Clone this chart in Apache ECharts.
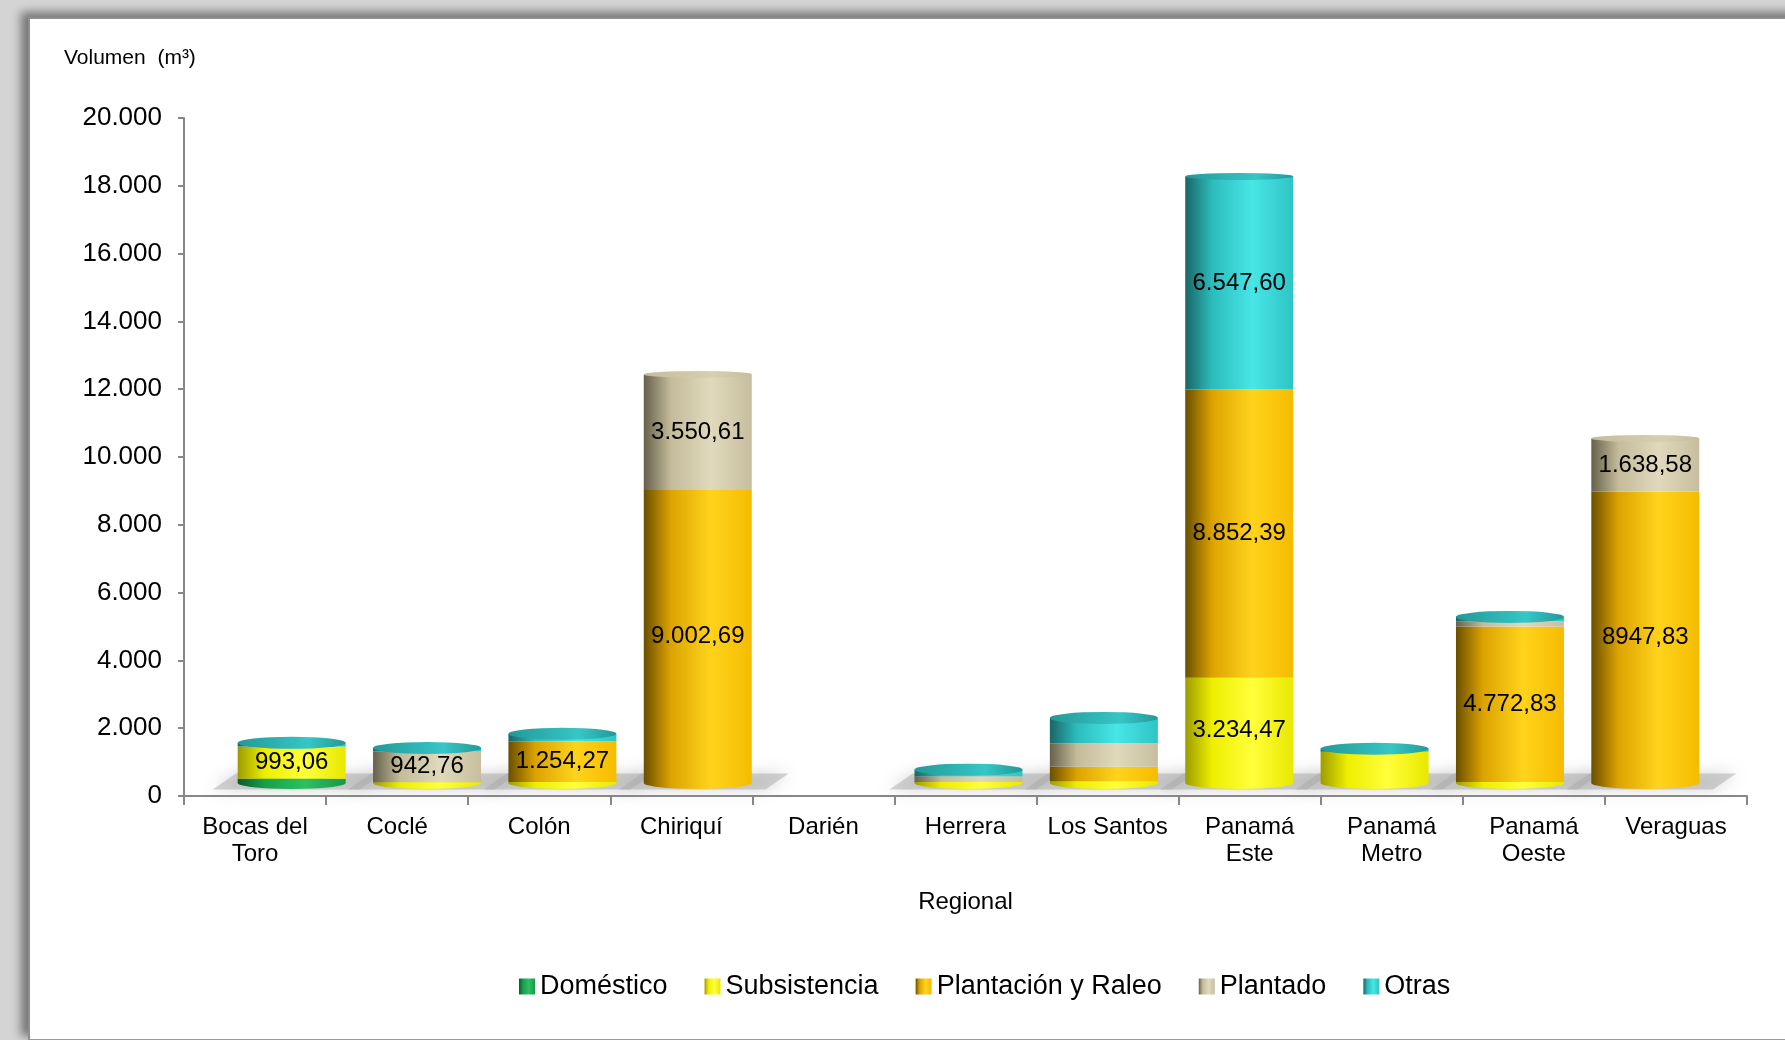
<!DOCTYPE html>
<html>
<head>
<meta charset="utf-8">
<script src="https://cdn.jsdelivr.net/npm/echarts@6/dist/echarts.min.js"></script>
<style>
  html, body { margin: 0; padding: 0; }
  body { width: 1785px; height: 1040px; background: #d4d4d4; position: relative; overflow: hidden; }
  #frame { position: absolute; left: 28px; top: 17px; width: 1780px; height: 1020px; background: #ffffff;
           border-left: 2px solid #8e8e8e; border-top: 2px solid #8e8e8e; border-bottom: 2px solid #9a9a9a;
           box-shadow: -7px -5px 9px rgba(0,0,0,0.45); }
  #chart { position: absolute; left: 0; top: 0; width: 1785px; height: 1040px; }
</style>
</head>
<body>
<div id="frame"></div>
<div id="chart"></div>
<script>
// ---- data ----
const categories = ['Bocas del\nToro', 'Coclé', 'Colón', 'Chiriquí', 'Darién', 'Herrera', 'Los Santos', 'Panamá\nEste', 'Panamá\nMetro', 'Panamá\nOeste', 'Veraguas'];
const seriesNames = ['Doméstico', 'Subsistencia', 'Plantación y Raleo', 'Plantado', 'Otras'];
const domestico    = [130,    0,      0,       0,       0, 0,   0,   0,       0,   0,       0];
const subsistencia = [993.06, 25,     30,      0,       0, 30,  50,  3234.47, 960, 30,      0];
const plantacion   = [0,      0,      1254.27, 9002.69, 0, 0,   450, 8852.39, 0,   4772.83, 8947.83];
const plantado     = [0,      942.76, 0,       3550.61, 0, 180, 720, 0,       0,   170,     1638.58];
const otras        = [110,    110,    230,     0,       0, 200, 780, 6547.60, 90,  130,     0];
// which categories carry a value label, per series
const labeledDomestico    = [];
const labeledSubsistencia = [0, 7];
const labeledPlantacion   = [2, 3, 7, 9, 10];
const labeledPlantado     = [1, 3, 10];
const labeledOtras        = [7];
// labels printed without thousands separator: [seriesIndex, categoryIndex]
const ungroupedLabels = [[2, 10]];
const yTicks = [0, 2000, 4000, 6000, 8000, 10000, 12000, 14000, 16000, 18000, 20000];

const allValues = [domestico, subsistencia, plantacion, plantado, otras];
const allLabeled = [labeledDomestico, labeledSubsistencia, labeledPlantacion, labeledPlantado, labeledOtras];

// ---- styles ----
const FONT = 'Liberation Sans, Arial, sans-serif';
const bodyColors = [
  ['#0b5a2c', '#16a04c', '#2cc063', '#1a9848'],
  ['#9c9c00', '#eeee00', '#ffff3a', '#e8e800'],
  ['#6a4f00', '#dca300', '#ffd31c', '#f5bc00'],
  ['#66614b', '#c3bb99', '#e0d9bc', '#c6be9e'],
  ['#1a6666', '#2cbcbc', '#48e6e6', '#2ec4c4']
];
const capColors = [
  ['#148a40', '#2cc063'],
  ['#e6e600', '#ffff55'],
  ['#f0b400', '#ffd840'],
  ['#c4bc9b', '#d6cfb2'],
  ['#249898', '#36c6c6']
];
function grad(c) {
  return { type: 'linear', x: 0, y: 0, x2: 1, y2: 0,
    colorStops: [{ offset: 0, color: c[0] }, { offset: 0.25, color: c[1] }, { offset: 0.62, color: c[2] }, { offset: 1, color: c[3] }] };
}
function capGrad(c) {
  return { type: 'linear', x: 0, y: 0, x2: 1, y2: 0,
    colorStops: [{ offset: 0, color: c[0] }, { offset: 0.65, color: c[1] }, { offset: 1, color: c[0] }] };
}
function groupThousands(s) { return s.replace(/\B(?=(\d{3})+(?!\d))/g, '.'); }
function fmtES(v, group) {
  const p = v.toFixed(2).split('.');
  return (group ? groupThousands(p[0]) : p[0]) + ',' + p[1];
}
function isUngrouped(k, i) { return ungroupedLabels.some(p => p[0] === k && p[1] === i); }

// ---- derived marks ----
const totals = categories.map((_, i) => allValues.reduce((s, arr) => s + arr[i], 0));
const topIdx = categories.map((_, i) => { let t = -1; allValues.forEach((a, k) => { if (a[i] > 0) t = k; }); return t; });
const botIdx = categories.map((_, i) => { for (let k = 0; k < allValues.length; k++) if (allValues[k][i] > 0) return k; return -1; });

const BAR_W = 108;

const stackSeries = seriesNames.map((name, k) => ({
  name: name, type: 'bar', stack: 'total', xAxisIndex: 1, yAxisIndex: 1,
  barWidth: BAR_W, z: 3,
  itemStyle: { color: grad(bodyColors[k]) },
  label: { show: false },
  data: allValues[k].map((v, i) => {
    if (allLabeled[k].indexOf(i) >= 0) {
      return { value: v, label: { show: true, position: 'inside', color: '#000', fontSize: 24, fontFamily: FONT,
        formatter: () => fmtES(v, !isUngrouped(k, i)) } };
    }
    return v;
  })
}));

const capSeries = {
  type: 'pictorialBar', xAxisIndex: 1, yAxisIndex: 1, symbol: 'circle',
  symbolPosition: 'end', symbolOffset: [0, '-50%'], barGap: '-100%', z: 5, silent: true,
  data: totals.map((t, i) => topIdx[i] < 0 ? '-' : {
    value: t, symbolSize: [BAR_W, t > 10000 ? 7 : 12],
    itemStyle: { color: capGrad(capColors[topIdx[i]]) } })
};
const bottomSeries = {
  type: 'pictorialBar', xAxisIndex: 1, yAxisIndex: 1, symbol: 'circle', symbolSize: [BAR_W, 12],
  symbolPosition: 'start', symbolOffset: [0, '50%'], barGap: '-100%', z: 2, silent: true,
  data: totals.map((t, i) => botIdx[i] < 0 ? '-' : { value: t, itemStyle: { color: grad(bodyColors[botIdx[i]]) } })
};
const shadowSeries = {
  type: 'pictorialBar', xAxisIndex: 1, yAxisIndex: 1,
  symbol: 'path://M0,18 L24,0 L176,0 L152,18 Z', symbolSize: [170, 16],
  symbolPosition: 'start', symbolOffset: [6, '40%'], barGap: '-100%', z: 1, silent: true,
  itemStyle: { color: 'rgba(170,170,170,0.5)', shadowColor: 'rgba(150,150,150,0.8)', shadowBlur: 16 },
  data: totals.map((t, i) => botIdx[i] < 0 ? '-' : t)
};

const chart = echarts.init(document.getElementById('chart'), null, { renderer: 'canvas' });
chart.setOption({
  backgroundColor: 'transparent',
  animation: false,
  textStyle: { fontFamily: FONT },
  title: { text: 'Volumen  (m³)', left: 59, top: 43, textStyle: { fontSize: 21, fontWeight: 'normal', color: '#000', fontFamily: FONT } },
  legend: {
    data: seriesNames, left: 514, top: 968, itemWidth: 16, itemHeight: 16, itemGap: 37, icon: 'rect',
    textStyle: { fontSize: 27, color: '#000', fontFamily: FONT }
  },
  grid: [
    { left: 184, right: 38, top: 118, bottom: 244 },
    { left: 224, right: 72, top: 132, bottom: 257 }
  ],
  xAxis: [
    { type: 'category', gridIndex: 0, data: categories,
      axisLine: { show: true, lineStyle: { color: '#878787', width: 2 } },
      axisTick: { show: true, length: 9, lineStyle: { color: '#878787', width: 2 } },
      axisLabel: { color: '#000', fontSize: 24, margin: 18, lineHeight: 27, interval: 0, fontFamily: FONT },
      name: 'Regional', nameLocation: 'middle', nameGap: 94,
      nameTextStyle: { color: '#000', fontSize: 24, fontFamily: FONT } },
    { type: 'category', gridIndex: 1, data: categories, show: false }
  ],
  yAxis: [
    { type: 'value', gridIndex: 0, min: 0, max: 20000, interval: 2000,
      axisLine: { show: true, lineStyle: { color: '#878787', width: 2 } },
      axisTick: { show: true, length: 6, lineStyle: { color: '#878787', width: 2 } },
      splitLine: { show: false },
      axisLabel: { color: '#000', fontSize: 26, margin: 22, fontFamily: FONT,
        formatter: v => (yTicks.indexOf(v) >= 0 ? groupThousands(String(v)) : '') } },
    { type: 'value', gridIndex: 1, min: 0, max: 20000, interval: 2000, show: false }
  ],
  series: [shadowSeries, bottomSeries].concat(stackSeries).concat([capSeries])
});
</script>
</body>
</html>
